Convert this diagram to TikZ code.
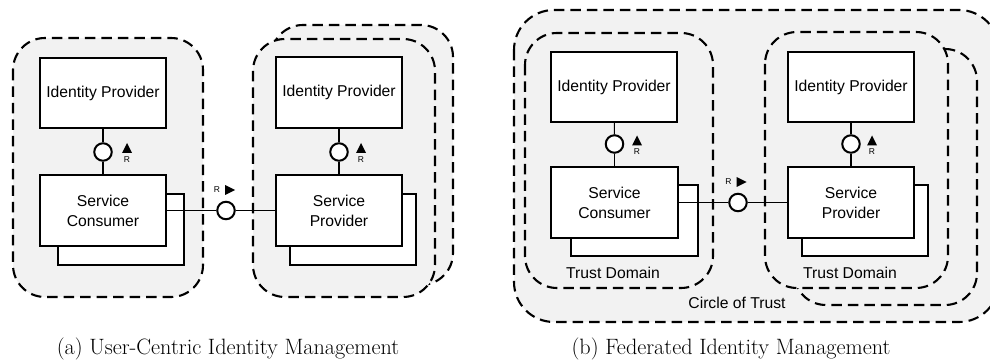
\documentclass[tikz,border=0pt]{standalone}
\usepackage{fontspec}
\newfontfamily\diagfont{Liberation Sans}
\definecolor{regionfill}{RGB}{242,242,242}
\tikzset{
  region/.style={draw=black, fill=regionfill, line width=2.1pt,
    dash pattern=on 10.5pt off 6pt, rounded corners=#1},
  region/.default=32pt,
  comp/.style={draw=black, fill=white, line width=1.9pt, minimum width=126.5pt,
    minimum height=70.5pt, inner sep=0pt, align=center,
    font=\diagfont\fontsize{15.7}{20}\selectfont},
  shadowbox/.style={draw=black, fill=white, line width=1.9pt, minimum width=126.5pt,
    minimum height=70.5pt, inner sep=0pt},
  lolli/.style={circle, draw=black, fill=white, line width=2pt,
    minimum size=17.5pt, inner sep=0pt},
  wire/.style={draw=black, line width=1.1pt},
  rlabel/.style={font=\diagfont\fontsize{8.5}{9}\selectfont, inner sep=0pt},
  areatext/.style={font=\diagfont\fontsize{15.7}{18}\selectfont, inner sep=0pt},
  captext/.style={font=\fontsize{22.2}{26}\selectfont, inner sep=0pt, anchor=base},
  % required-interface marker pointing upwards, with its role letter below
  upmark/.pic={
    \fill (-5,5) -- (5,5) -- (0,-5) -- cycle;
    \node[rlabel] (-r) at (0,11.5) {R};
  },
  % required-interface marker pointing right, role letter on its left
  rightmark/.pic={
    \fill (-4.5,-5) -- (-4.5,5) -- (5.5,0) -- cycle;
    \node[rlabel] (-r) at (-12.5,0) {R};
  },
}
\begin{document}
\begin{tikzpicture}[x=1pt, y=-1pt]
\useasboundingbox (0,0) rectangle (990,363);
\clip (0,0) rectangle (990,363);

% ---------- (a) user-centric ----------
\draw[region] (13,38) rectangle (203,297);
\draw[region] (271,25) rectangle (453,285);
\draw[region] (253,39) rectangle (435,297);

\node[shadowbox] (sc1s) at (121,229.5) {};
\node[comp] (ip1) at (103,93) {Identity Provider};
\node[comp] (sc1) at (103,210.5) {Service\\Consumer};

\node[shadowbox] (sp1s) at (353,229.5) {};
\node[comp] (ip2) at (339,92.5) {Identity Provider};
\node[comp] (sp1) at (339,210.5) {Service\\Provider};

\node[lolli] (c1) at (103,152) {};
\node[lolli] (c2) at (339,152) {};
\node[lolli] (cx1) at (226,210.5) {};

\draw[wire] (ip1) -- (c1);
\draw[wire] (c1) -- (sc1);
\draw[wire] (ip2) -- (c2);
\draw[wire] (c2) -- (sp1);
\draw[wire] (sc1) -- (cx1);
\draw[wire] (cx1) -- (sp1);

\pic (m1) at (127,148) {upmark};
\pic (m2) at (361,148) {upmark};
\pic (m3) at (229.5,190) {rightmark};

\node[captext] (capa) at (228,354) {(a) User-Centric Identity Management};

% ---------- (b) federated ----------
\draw[region=40pt] (514,10) rectangle (999,322);
\draw[region] (525,33) rectangle (713,288);
\draw[region] (794,49) rectangle (977,305);
\draw[region] (765,32) rectangle (948,288);

\node[shadowbox] (sc2s) at (634.5,220.5) {};
\node[comp] (ip3) at (614,87) {Identity Provider};
\node[comp] (sc2) at (614.5,202.5) {Service\\Consumer};

\node[shadowbox] (sp2s) at (865,220.5) {};
\node[comp] (ip4) at (851,87) {Identity Provider};
\node[comp] (sp2) at (851,202.5) {Service\\Provider};

\node[lolli] (c3) at (614.5,144) {};
\node[lolli] (c4) at (851,144) {};
\node[lolli] (cx2) at (738,202.5) {};

\draw[wire] (ip3) -- (c3);
\draw[wire] (c3) -- (sc2);
\draw[wire] (ip4) -- (c4);
\draw[wire] (c4) -- (sp2);
\draw[wire] (sc2) -- (cx2);
\draw[wire] (cx2) -- (sp2);

\pic (m4) at (637,140.5) {upmark};
\pic (m5) at (872,140.5) {upmark};
\pic (m6) at (741,182) {rightmark};

\node[areatext] (td1) at (613,273) {Trust Domain};
\node[areatext] (td2) at (850,273) {Trust Domain};
\node[areatext] (cot) at (737,303) {Circle of Trust};

\node[captext] (capb) at (731,354) {(b) Federated Identity Management};
\end{tikzpicture}
\end{document}
